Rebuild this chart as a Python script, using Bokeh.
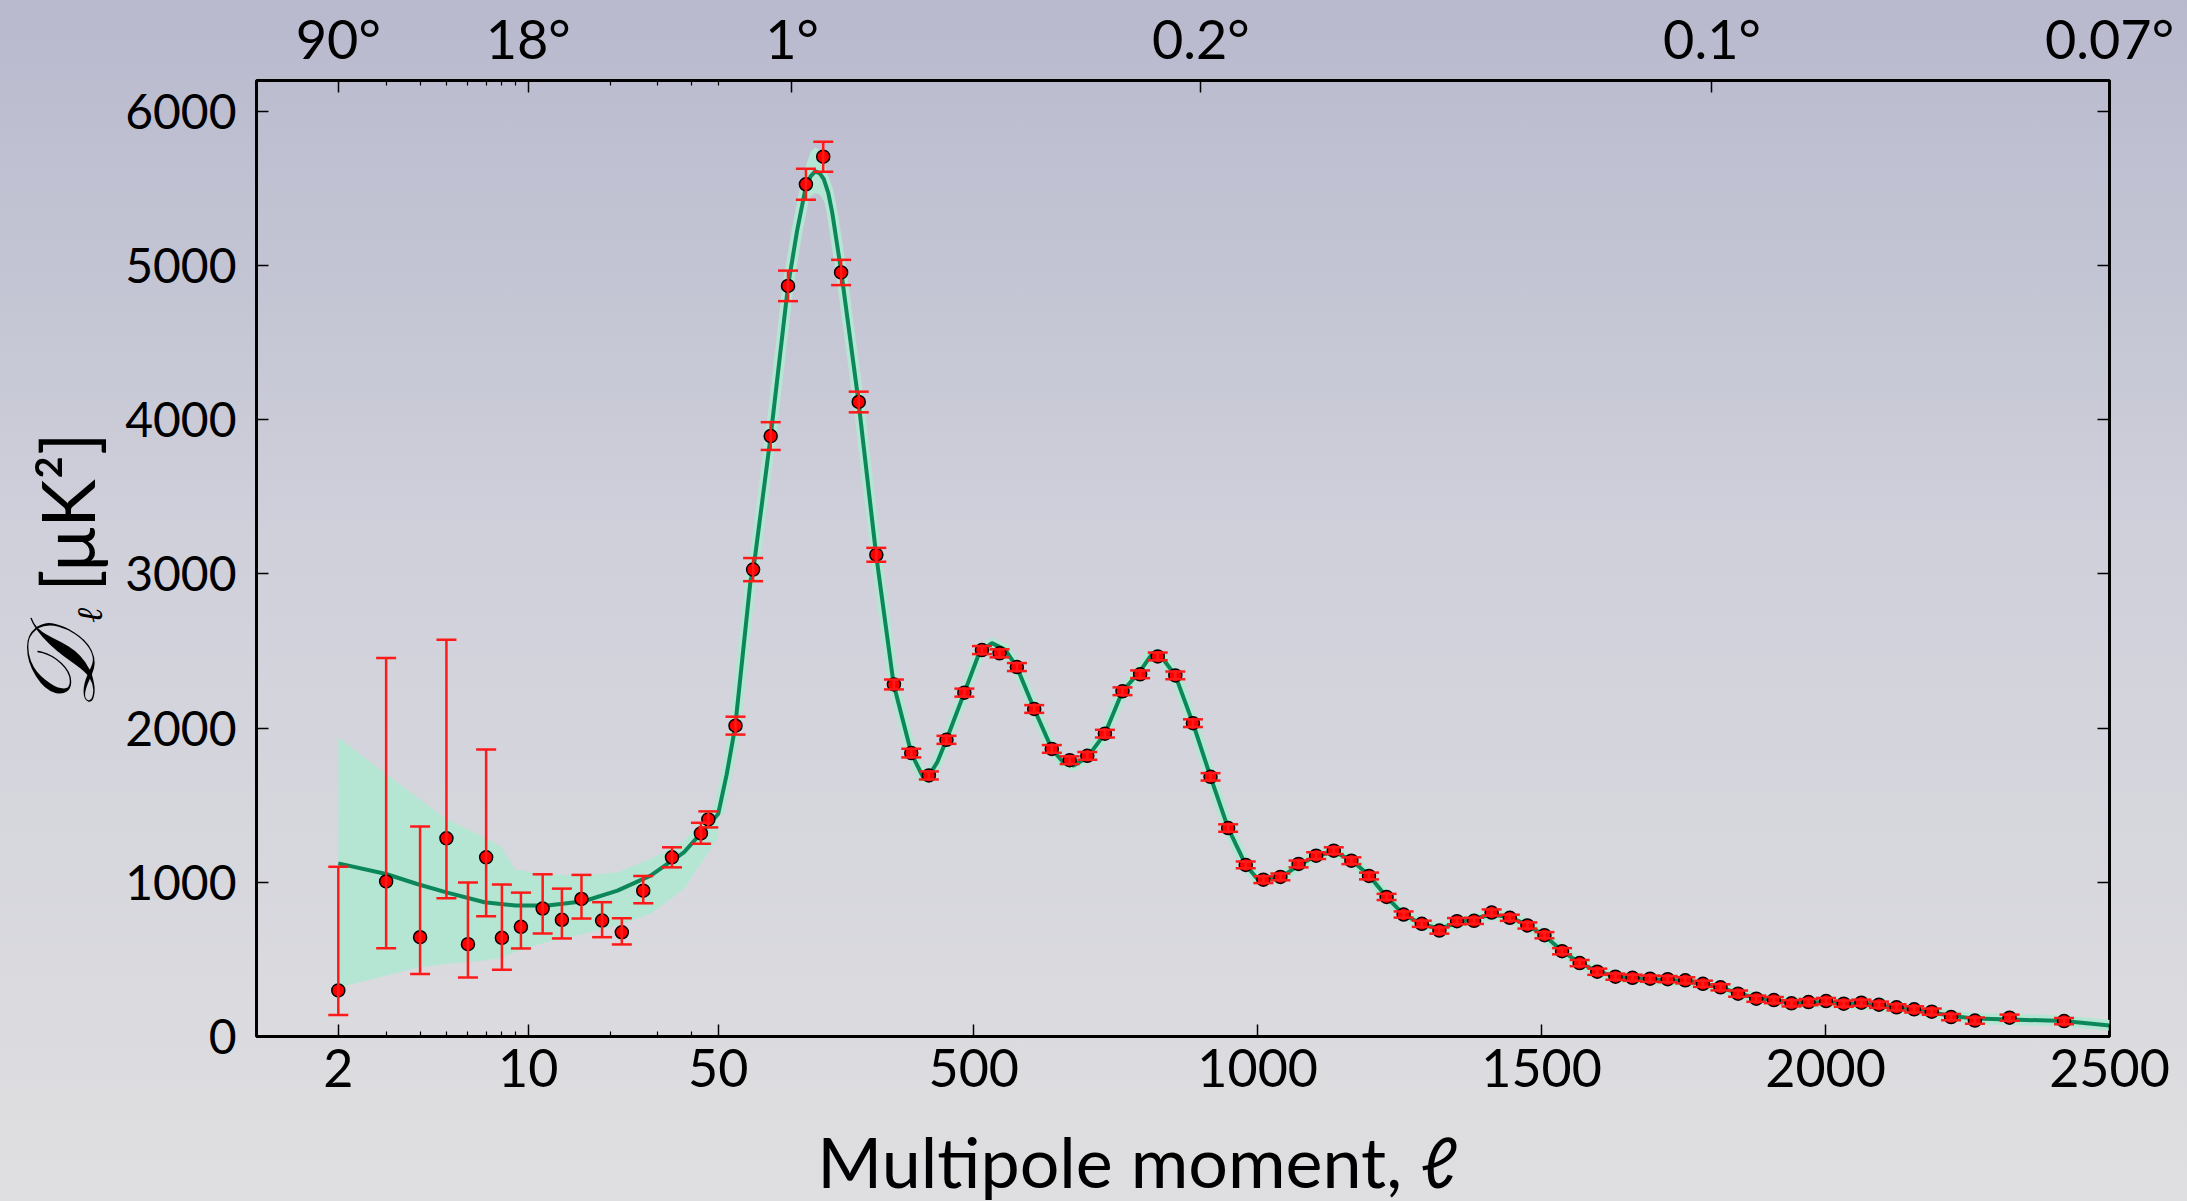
import math
from bokeh.plotting import figure
from bokeh.layouts import row, column
from bokeh.models import (Range1d, LinearAxis, FixedTicker, ColumnDataSource,
                          Whisker, TeeHead, Grid)
from bokeh.core.properties import value
from bokeh.embed import file_html
from bokeh.resources import INLINE

# ---------------- data ----------------
low_ell = [2, 3, 4, 5, 6, 7, 8, 9.4, 11.3, 13.3, 15.7, 18.7, 22.1, 26.5, 33.8, 43.2, 46.0]
low_D   = [299, 1006, 644, 1285, 599, 1162, 640, 711, 830, 757, 892, 752, 676, 946, 1162, 1317, 1408]
low_lo  = [139, 573, 405, 897, 383, 780, 433, 571, 668, 636, 765, 644, 597, 864, 1097, 1250, 1356]
low_hi  = [1101, 2454, 1362, 2573, 998, 1861, 985, 933, 1052, 959, 1048, 871, 767, 1041, 1227, 1386, 1460]

high_ell = [80.5, 111.5, 142.5, 173, 204.5, 235, 266.5, 297.5, 328.5, 359.5,
            390, 421, 452, 483.5, 514.5, 545.5, 576, 606.5, 637.5, 669,
            700, 731, 762, 793, 824, 855, 886, 917, 948, 979,
            1010, 1040, 1072, 1103, 1134, 1165, 1196, 1227, 1257, 1289,
            1320, 1351, 1381, 1412, 1444, 1475, 1505, 1536, 1567, 1598,
            1630, 1660, 1691, 1722, 1753, 1784, 1815, 1846, 1878, 1909,
            1940, 1970, 2001, 2032, 2063, 2094, 2125, 2156, 2187, 2221,
            2263, 2324, 2420]
high_D = [2016, 3028, 3894, 4868, 5527, 5706, 4955, 4115, 3124, 2283,
          1838, 1693, 1924, 2230, 2506, 2485, 2396, 2124, 1865, 1792,
          1820, 1964, 2239, 2349, 2465, 2342, 2032, 1684, 1352, 1113,
          1017, 1035, 1119, 1173, 1205, 1140, 1041, 905, 791, 731,
          687, 748, 750, 804, 770, 720, 657, 553, 476, 420,
          388, 381, 375, 372, 364, 342, 319, 278, 245, 236,
          215, 223, 230, 213, 219, 206, 189, 176, 161, 126,
          103, 122, 100]
high_err = [58, 75, 90, 99, 100, 97, 82, 67, 45, 32,
            28, 26, 26, 26, 26, 26, 26, 25, 25, 25,
            25, 25, 25, 25, 25, 25, 25, 24, 24, 22,
            22, 22, 22, 22, 22, 22, 22, 20, 20, 20,
            20, 20, 20, 20, 20, 20, 20, 20, 20, 20,
            20, 20, 20, 20, 20, 20, 20, 20, 20, 20,
            20, 20, 20, 20, 20, 20, 20, 20, 20, 20,
            20, 20, 20]

curve_ell = [2, 3, 3.9, 5, 6.9, 9, 11.8, 16, 21.3, 28.2, 37.4, 50,
             65, 80, 107, 112, 142.5, 173, 189, 204, 213, 221, 229, 236, 244, 251, 258, 266.6,
             297, 328, 359, 390, 412, 421, 436, 452, 483.5, 510,
             532, 555, 576, 606.5, 637.5, 656, 676, 700, 731, 762,
             793, 814, 835, 855, 886, 917, 948, 979, 1000,
             1040, 1072, 1103, 1134, 1165, 1196, 1227, 1257, 1289, 1320,
             1351, 1381, 1412, 1444, 1475, 1505, 1536, 1567, 1598, 1630,
             1660, 1691, 1722, 1753, 1784, 1815, 1846, 1878, 1909, 1940,
             1970, 2001, 2032, 2063, 2094, 2125, 2156, 2187, 2221, 2263,
             2324, 2420, 2500]
curve_D = [1123, 1054, 989, 935, 871, 849, 849, 877, 946, 1043, 1194, 1443,
           1700, 2010, 2957, 3028, 3894, 4868, 5226, 5504, 5580, 5611, 5598, 5560, 5470, 5340, 5170, 4963,
           4122, 3129, 2285, 1838, 1672, 1690, 1780, 1924, 2230, 2490,
           2551, 2510, 2396, 2124, 1865, 1785, 1757, 1810, 1964, 2239,
           2370, 2482, 2440, 2342, 2032, 1684, 1352, 1113, 1020,
           1030, 1110, 1170, 1198, 1145, 1045, 905, 791, 728, 700,
           735, 765, 790, 775, 722, 655, 555, 478, 422, 390,
           378, 372, 367, 358, 342, 318, 280, 250, 236, 222,
           220, 222, 216, 210, 200, 187, 172, 156, 135, 116,
           111, 100, 72]

band_ell = [2, 3, 3.9, 5, 6.9, 8, 8.9, 11.1, 16, 21.3, 28.2, 37.4, 50]
band_hi  = [1939, 1702, 1550, 1410, 1291, 1227, 1087, 1054, 1043, 1065, 1151, 1270, 1529]
band_lo  = [316, 396, 446, 472, 493, 510, 547, 601, 666, 720, 795, 957, 1291]
peak_ell = [189, 204, 213, 221, 229, 236, 251]
peak_hi  = [5330, 5640, 5740, 5765, 5750, 5700, 5440]
peak_lo  = [5140, 5380, 5450, 5470, 5460, 5420, 5240]

bottom_tick_ell = [2, 10, 50, 500, 1000, 1500, 2000, 2500]
bottom_tick_labels = ["2", "10", "50", "500", "1000", "1500", "2000", "2500"]
top_tick_ell = [2, 10, 180, 900, 1800, 2500]
top_tick_labels = ["90°", "18°", "1°", "0.2°", "0.1°", "0.07°"]
minor_ell = [3, 4, 5, 6, 7, 8, 9, 20, 30, 40]
y_ticks = [0, 1000, 2000, 3000, 4000, 5000, 6000]
x_title = "Multipole moment, ℓ"
y_title_parts = ["𝒟", "ℓ", "[μK²]"]

assert len(high_ell) == len(high_D) == len(high_err)
assert len(curve_ell) == len(curve_D)
assert len(low_ell) == len(low_D) == len(low_lo) == len(low_hi)

# hybrid axis: log below ell=50, linear above
K = 478.5
def u(ell):
    return float(ell) if ell >= 50 else round(50 + K * math.log10(ell / 50.0), 4)

MINT = "#b5e6d3"
GREEN = "#0b875a"
FONT = "Lato"
BG = {"background": "linear-gradient(180deg, #b8b9cd 0%, #cfd0da 45%, #dfdfe1 100%)"}
TOTAL_W, TOTAL_H = 2187, 1201
YLAB_W = 120
XLAB_H = 87
TOP, BOTTOM = 80, 78
MAIN_H = TOTAL_H - XLAB_H

def bare(fig):
    fig.background_fill_alpha = 0
    fig.border_fill_alpha = 0
    fig.outline_line_color = None
    for r in list(fig.center):
        if isinstance(r, Grid):
            r.visible = False

# ---------------- y-title strip ----------------
ylab = figure(width=YLAB_W, height=MAIN_H, output_backend="svg", toolbar_location=None,
              x_range=Range1d(0, YLAB_W), y_range=Range1d(0, 6200),
              x_axis_location=None, y_axis_location=None,
              min_border=0, min_border_left=0, min_border_right=0,
              min_border_top=TOP, min_border_bottom=BOTTOM)
bare(ylab)
ang = math.pi / 2
ylab.text(x=[60], y=[2367], text=[y_title_parts[0]], angle=ang,
          text_font=value("DejaVu Serif"), text_font_style="italic",
          text_font_size="96px", text_color="black",
          text_align="center", text_baseline="middle")
ylab.text(x=[89], y=[2730], text=[y_title_parts[1]], angle=ang,
          text_font=value("DejaVu Serif"), text_font_style="italic",
          text_font_size="36px", text_color="black",
          text_align="center", text_baseline="middle")
ylab.text(x=[66], y=[3400], text=[y_title_parts[2]], angle=ang,
          text_font=value(FONT), text_font_size="73px", text_color="black",
          text_align="center", text_baseline="middle")

# ---------------- x-title strip ----------------
xlab = figure(width=TOTAL_W, height=XLAB_H, output_backend="svg", toolbar_location=None,
              x_range=Range1d(0, TOTAL_W), y_range=Range1d(0, XLAB_H),
              x_axis_location=None, y_axis_location=None,
              min_border=0, min_border_left=0, min_border_right=0,
              min_border_top=0, min_border_bottom=0)
bare(xlab)
xlab.text(x=[1137], y=[41], text=[x_title], text_font=value(FONT),
          text_font_size="70px", text_color="black",
          text_align="center", text_baseline="middle")

# ---------------- main figure ----------------
p = figure(width=TOTAL_W - YLAB_W, height=MAIN_H, output_backend="svg", toolbar_location=None,
           x_range=Range1d(u(1), 2500), y_range=Range1d(0, 6200),
           x_axis_location=None, y_axis_location=None,
           min_border_left=256 - YLAB_W, min_border_right=78,
           min_border_top=TOP, min_border_bottom=BOTTOM)
bare(p)
p.outline_line_color = "black"
p.outline_line_width = 3

def style_axis(ax, size):
    ax.axis_line_color = None
    ax.major_tick_in = 12
    ax.major_tick_out = 0
    ax.minor_tick_in = 5
    ax.minor_tick_out = 0
    ax.major_tick_line_color = "black"
    ax.minor_tick_line_color = "black"
    ax.major_tick_line_width = 1.5
    ax.minor_tick_line_width = 1.2
    ax.major_label_text_font = FONT
    ax.major_label_text_font_size = size
    ax.major_label_text_color = "black"

bt = [u(e) for e in bottom_tick_ell]
bottom = LinearAxis(ticker=FixedTicker(ticks=bt, minor_ticks=[u(e) for e in minor_ell]),
                    major_label_overrides=dict(zip(bt, bottom_tick_labels)))
style_axis(bottom, "52px")
bottom.major_label_standoff = 12
p.add_layout(bottom, "below")

tt = [u(e) for e in top_tick_ell]
top = LinearAxis(ticker=FixedTicker(ticks=tt, minor_ticks=[u(e) for e in minor_ell + [50]]),
                 major_label_overrides=dict(zip(tt, top_tick_labels)))
style_axis(top, "54px")
top.major_label_standoff = 10
p.add_layout(top, "above")

left = LinearAxis(ticker=FixedTicker(ticks=y_ticks, minor_ticks=[]))
style_axis(left, "48px")
left.major_label_standoff = 20
p.add_layout(left, "left")

right = LinearAxis(ticker=FixedTicker(ticks=y_ticks, minor_ticks=[]),
                   major_label_overrides={t: "" for t in y_ticks})
style_axis(right, "1px")
p.add_layout(right, "right")

p.varea(x=[u(e) for e in band_ell], y1=band_lo, y2=band_hi, fill_color=MINT)
p.varea(x=[u(e) for e in peak_ell], y1=peak_lo, y2=peak_hi, fill_color=MINT)
p.line(x=[u(e) for e in curve_ell[11:]], y=curve_D[11:], line_color=MINT, line_width=11)
p.line(x=[u(e) for e in curve_ell], y=curve_D, line_color=GREEN, line_width=4)

pts_x = [u(e) for e in low_ell] + [u(e) for e in high_ell]
pts_y = low_D + high_D
err_lo = low_lo + [d - e for d, e in zip(high_D, high_err)]
err_hi = low_hi + [d + e for d, e in zip(high_D, high_err)]
src = ColumnDataSource(dict(x=pts_x, y=pts_y, lo=err_lo, hi=err_hi))

RED = "#ff1a1a"
wh = Whisker(source=src, base="x", lower="lo", upper="hi", level="glyph",
             line_color=RED, line_width=2.5,
             upper_head=TeeHead(size=20, line_color=RED, line_width=2.5),
             lower_head=TeeHead(size=20, line_color=RED, line_width=2.5))
p.add_layout(wh)

p.scatter(x="x", y="y", source=src, size=13, fill_color="#ff0000",
          line_color="black", line_width=1.5)

layout = column(row(ylab, p, spacing=0), xlab, spacing=0)
layout.styles = BG
open("out.html", "w").write(file_html(layout, INLINE))
